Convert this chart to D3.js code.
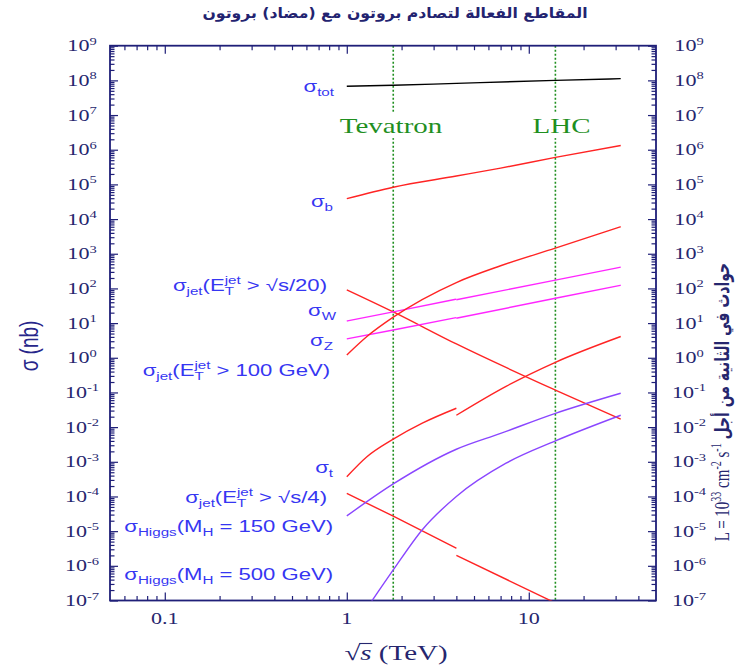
<!DOCTYPE html>
<html lang="ar">
<head>
<meta charset="utf-8">
<title>المقاطع الفعالة لتصادم بروتون مع (مضاد) بروتون</title>
<script src="https://cdn.jsdelivr.net/npm/d3@7/dist/d3.min.js"></script>
<style>
  html, body { margin: 0; background: #fff; }
  svg { display: block; }
</style>
</head>
<body>
<svg id="chart" width="742" height="666"></svg>
<script>
// ---- data: √s in TeV, cross sections σ in nb ----
// curves split at 4 TeV: proton–antiproton below, proton–proton above
const totEnergy = [1, 1.8, 4, 14, 32];
const totSigma  = [6.8e7, 7.2e7, 8.2e7, 1.0e8, 1.12e8];

const bEnergy = [1, 1.8, 4, 7, 14, 32];
const bSigma  = [3.9e4, 8.3e4, 1.74e5, 2.95e5, 6.0e5, 1.32e6];

const jet20Energy = [1, 1.8, 4, 14, 32];
const jet20Sigma  = [91, 21, 2.5, 0.117, 0.017];

const wEnergyPbar = [1, 1.8, 4];
const wSigmaPbar  = [11.5, 21, 49];
const wEnergyPP   = [4, 14, 32];
const wSigmaPP    = [47, 174, 410];

const zEnergyPbar = [1, 1.8, 4];
const zSigmaPbar  = [3.5, 6.3, 14.4];
const zEnergyPP   = [4, 14, 32];
const zSigmaPP    = [13.8, 52, 123];

const jet100Energy = [1, 1.29, 1.8, 4, 7, 14, 32];
const jet100Sigma  = [1.2, 4.1, 14.8, 148, 450, 1450, 6000];

const topEnergyPbar = [1, 1.29, 1.8, 2.6, 4];
const topSigmaPbar  = [3.7e-4, 1.4e-3, 4.5e-3, 0.013, 0.035];
const topEnergyPP   = [4, 7.5, 14, 32];
const topSigmaPP    = [0.022, 0.15, 0.74, 4.1];

const jet4EnergyPbar = [1, 1.8, 4];
const jet4SigmaPbar  = [1.23e-4, 2.7e-5, 3.2e-6];
const jet4EnergyPP   = [4, 14];
const jet4SigmaPP    = [2.0e-6, 8.5e-8];

const h150Energy = [1, 1.8, 4, 7, 14, 32];
const h150Sigma  = [2.75e-5, 2.3e-4, 2.3e-3, 6.6e-3, 0.025, 0.095];

const h500Energy = [1.35, 1.8, 2.6, 4, 7.5, 14, 32];
const h500Sigma  = [8.5e-8, 7.6e-7, 1.1e-5, 1.0e-4, 9.1e-4, 4.0e-3, 0.022];

const colliderNames    = ["Tevatron", "LHC"];
const colliderEnergies = [1.8, 14];

const xTickValues = [0.1, 1, 10];
const xTickLabels = ["0.1", "1", "10"];
const yExponents  = d3.range(-7, 10);

const titleText  = "المقاطع الفعالة لتصادم بروتون مع (مضاد) بروتون";
const rightTitle = "حوادث في الثانية من أجل";

// ---- layout & style ----
const SX = 1.38;                       // lettering is drawn horizontally widened
const P = { x0: 110, x1: 656, y0: 45.7, y1: 600.5 };
const navy = "#1f1f78", tickText = "#26266e", labelBlue = "#3636f2";
const red = "#ff2424", magenta = "#ff26ff", violet = "#8a46ff", green = "#1f8f1f";
const serif = "'Liberation Serif', 'Times New Roman', serif";
const sans = "'Liberation Sans', Arial, sans-serif";

const svg = d3.select("#chart");
const x = d3.scaleLog().domain([0.05, 50]).range([P.x0, P.x1]);
const y = d3.scaleLog().domain([1e-7, 1e9]).range([P.y1, P.y0]);

svg.append("defs").append("clipPath").attr("id", "plotClip")
  .append("rect").attr("x", P.x0).attr("y", P.y0)
  .attr("width", P.x1 - P.x0).attr("height", P.y1 - P.y0);

// writes text made of normal / subscript / superscript pieces
function writeParts(textSel, parts, size, small, subDy = 4, supDy = -7) {
  let offset = 0, lastSub = null;
  parts.forEach(([t, k]) => {
    const ts = textSel.append("tspan").text(t);
    if (k === "sub") {
      ts.attr("font-size", small).attr("dy", subDy - offset);
      offset = subDy; lastSub = ts;
    } else if (k === "sup") {
      ts.attr("font-size", small).attr("dy", supDy - offset);
      if (lastSub) ts.attr("dx", -lastSub.node().getComputedTextLength());
      offset = supDy; lastSub = null;
    } else {
      ts.attr("font-size", size).attr("dy", -offset);
      offset = 0; lastSub = null;
    }
  });
}
const widened = (px, py, rot, sx = SX) =>
  `translate(${px},${py}) scale(${sx},1)` + (rot ? ` rotate(${rot})` : "");

// ---- collider energy markers ----
const coll = svg.append("g");
colliderEnergies.forEach((e, i) => {
  coll.append("line")
    .attr("x1", x(e)).attr("x2", x(e)).attr("y1", P.y0).attr("y2", P.y1)
    .attr("stroke", green).attr("stroke-width", 1.6).attr("stroke-dasharray", "2,2");
});
const collLabelX = [391, 561.5];
colliderNames.forEach((name, i) => {
  const g = coll.append("g").attr("transform", widened(collLabelX[i], 133));
  const bg = g.append("rect").attr("fill", "#fff");
  const t = g.append("text").attr("text-anchor", "middle")
    .attr("font-family", serif).attr("font-size", 21).attr("fill", green).text(name);
  const bb = t.node().getBBox();
  bg.attr("x", bb.x - 1).attr("y", bb.y - 2).attr("width", bb.width + 2).attr("height", bb.height + 3);
});

// ---- axes: ticks on all four sides, pointing inward ----
const xMinor = x.ticks().filter(v => v > 0.0501 && v < 49.9 && !xTickValues.some(m => Math.abs(m - v) / m < 1e-6));
const yMajor = yExponents.map(e => Math.pow(10, e));
const yMinor = [];
d3.range(-7, 9).forEach(e => d3.range(2, 10).forEach(k => yMinor.push(k * Math.pow(10, e))));

function tickStyle(g) {
  g.select(".domain").remove();
  g.selectAll("text").remove();
  g.selectAll("line").attr("stroke", navy).attr("stroke-width", 1.2);
}
const axes = svg.append("g");
[[d3.axisBottom, P.y1], [d3.axisTop, P.y0]].forEach(([fn, py]) => {
  axes.append("g").attr("transform", `translate(0,${py})`)
    .call(fn(x).tickValues(xMinor).tickSize(-4.5).tickFormat("")).call(tickStyle);
  axes.append("g").attr("transform", `translate(0,${py})`)
    .call(fn(x).tickValues(xTickValues).tickSize(-8).tickFormat("")).call(tickStyle);
});
[[d3.axisLeft, P.x0], [d3.axisRight, P.x1]].forEach(([fn, px]) => {
  axes.append("g").attr("transform", `translate(${px},0)`)
    .call(fn(y).tickValues(yMinor).tickSize(-4.5).tickFormat("")).call(tickStyle);
  axes.append("g").attr("transform", `translate(${px},0)`)
    .call(fn(y).tickValues(yMajor).tickSize(-8).tickFormat("")).call(tickStyle);
});
axes.append("rect").attr("x", P.x0).attr("y", P.y0)
  .attr("width", P.x1 - P.x0).attr("height", P.y1 - P.y0)
  .attr("fill", "none").attr("stroke", navy).attr("stroke-width", 1.8);

// tick labels
const labels = svg.append("g").attr("fill", tickText).attr("font-family", serif);
xTickValues.forEach((v, i) => {
  labels.append("text").attr("transform", widened(x(v), 624))
    .attr("text-anchor", "middle").attr("font-size", 16).text(xTickLabels[i]);
});
[82, 689].forEach(px => {
  yExponents.forEach(e => {
    const t = labels.append("text").attr("transform", widened(px, y(Math.pow(10, e)) + 5.5))
      .attr("text-anchor", "middle");
    writeParts(t, [["10", "n"], [e < 0 ? "-" + (-e) : String(e), "sup"]], 16, 10.5, 4, -6.5);
  });
});

// ---- cross-section curves ----
const line = d3.line().x(d => x(d[0])).y(d => y(d[1])).curve(d3.curveMonotoneX);
const curves = [
  [totEnergy, totSigma, "#000"],
  [bEnergy, bSigma, red],
  [jet20Energy, jet20Sigma, red],
  [wEnergyPbar, wSigmaPbar, magenta],
  [wEnergyPP, wSigmaPP, magenta],
  [zEnergyPbar, zSigmaPbar, magenta],
  [zEnergyPP, zSigmaPP, magenta],
  [jet100Energy, jet100Sigma, red],
  [topEnergyPbar, topSigmaPbar, red],
  [topEnergyPP, topSigmaPP, red],
  [jet4EnergyPbar, jet4SigmaPbar, red],
  [jet4EnergyPP, jet4SigmaPP, red],
  [h150Energy, h150Sigma, violet],
  [h500Energy, h500Sigma, violet]
];
svg.append("g").attr("clip-path", "url(#plotClip)")
  .selectAll("path").data(curves).join("path")
  .attr("d", d => line(d3.zip(d[0], d[1])))
  .attr("fill", "none").attr("stroke", d => d[2]).attr("stroke-width", 1.4);

// ---- curve names ----
const curveNames = [
  [["σ"], ["tot", "sub"]],
  [["σ"], ["b", "sub"]],
  [["σ"], ["jet", "sub"], ["(E"], ["T", "sub"], ["jet", "sup"], [" > √s/20)"]],
  [["σ"], ["W", "sub"]],
  [["σ"], ["Z", "sub"]],
  [["σ"], ["jet", "sub"], ["(E"], ["T", "sub"], ["jet", "sup"], [" > 100 GeV)"]],
  [["σ"], ["t", "sub"]],
  [["σ"], ["jet", "sub"], ["(E"], ["T", "sub"], ["jet", "sup"], [" > √s/4)"]],
  [["σ"], ["Higgs", "sub"], ["(M"], ["H", "sub"], [" = 150 GeV)"]],
  [["σ"], ["Higgs", "sub"], ["(M"], ["H", "sub"], [" = 500 GeV)"]]
];
const namePos = [[334, 92], [333, 207], [327, 291], [336, 316], [333, 346],
                 [330, 376], [333, 473], [327, 503], [333, 532], [333, 580]];
const names = svg.append("g").attr("fill", labelBlue).attr("font-family", sans);
curveNames.forEach((parts, i) => {
  const t = names.append("text").attr("transform", widened(namePos[i][0], namePos[i][1]))
    .attr("text-anchor", "end");
  writeParts(t, parts, 16, 11, 4, -7);
});

// ---- titles ----
svg.append("text").attr("transform", widened(395, 18, 0, 1.08))
  .attr("text-anchor", "middle").attr("direction", "rtl")
  .attr("font-family", "'DejaVu Sans', sans-serif").attr("font-weight", "bold")
  .attr("font-size", 14.5).attr("fill", "#232370").text(titleText);

svg.append("text").attr("transform", widened(38, 346, -90))
  .attr("text-anchor", "middle").attr("font-family", sans)
  .attr("font-size", 19).attr("fill", "#26268a").text("σ (nb)");

const xt = svg.append("g").attr("transform", widened(396, 660));
const xtText = xt.append("text").attr("text-anchor", "middle")
  .attr("font-family", serif).attr("font-size", 21).attr("fill", tickText);
xtText.append("tspan").text("√");
xtText.append("tspan").attr("font-style", "italic").text("s");
xtText.append("tspan").text(" (TeV)");
const r0 = xtText.node().getExtentOfChar(0), r1 = xtText.node().getExtentOfChar(1);
xt.append("line").attr("x1", r0.x + r0.width - 0.8).attr("x2", r1.x + r1.width + 0.5)
  .attr("y1", -16.5).attr("y2", -16.5).attr("stroke", tickText).attr("stroke-width", 1.1);

const rt = svg.append("text").attr("transform", widened(729, 402, -90))
  .attr("text-anchor", "middle").attr("font-family", serif).attr("fill", tickText);
writeParts(rt, [["L = 10"], ["33", "sup"], [" cm"], ["-2", "sup"], [" s"], ["-1", "sup"], [" "]], 15, 10, 4, -6);
rt.append("tspan").attr("font-family", "'DejaVu Sans', sans-serif").attr("font-weight", "bold")
  .attr("font-size", 14).attr("dy", 0).text(rightTitle);
</script>
</body>
</html>
